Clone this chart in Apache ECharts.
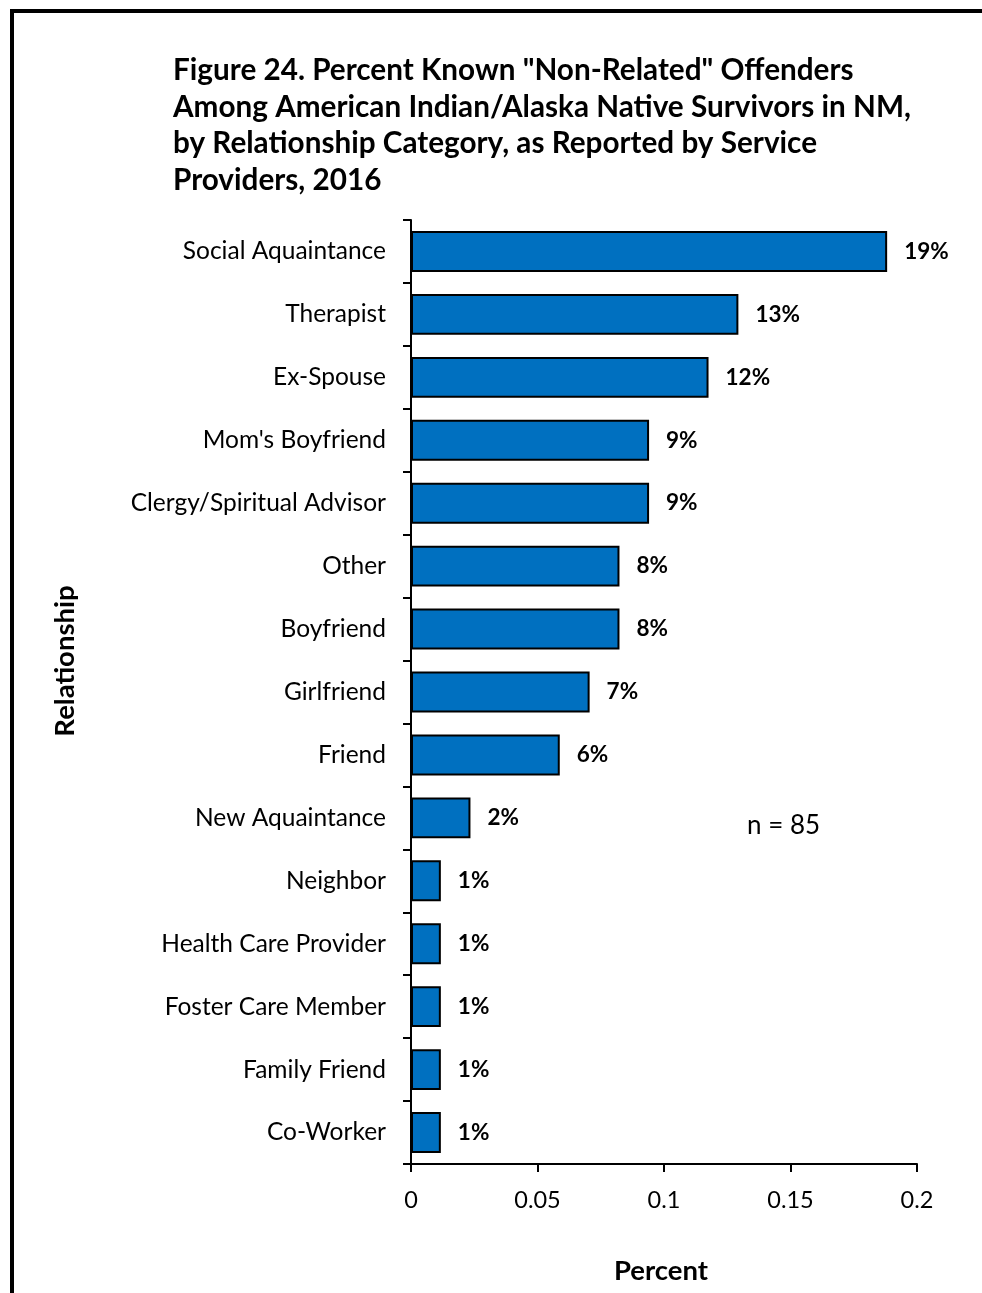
<!DOCTYPE html>
<html>
<head>
<meta charset="utf-8">
<script src="https://cdn.jsdelivr.net/npm/echarts@6/dist/echarts.min.js"></script>
<style>
  html, body { margin: 0; padding: 0; background: #fff; }
  #wrap { position: relative; width: 982px; height: 1293px; overflow: hidden; }
  #frame { position: absolute; left: 10px; top: 9px; width: 1000px; height: 1320px;
           border-left: 4px solid #000; border-top: 4px solid #000; box-sizing: border-box; }
  #chart { position: absolute; left: 0; top: 0; width: 982px; height: 1293px; }
</style>
</head>
<body>
<div id="wrap">
  <div id="frame"></div>
  <div id="chart"></div>
</div>
<script>
// Relationship categories, listed from bottom to top of the axis
const categories = [
  'Co-Worker', 'Family Friend', 'Foster Care Member', 'Health Care Provider',
  'Neighbor', 'New Aquaintance', 'Friend', 'Girlfriend', 'Boyfriend', 'Other',
  'Clergy/Spiritual Advisor', "Mom's Boyfriend", 'Ex-Spouse', 'Therapist',
  'Social Aquaintance'
];
// Share of known non-related offenders (n = 85)
const shares = [
  0.0118, 0.0118, 0.0118, 0.0118, 0.0118, 0.0235, 0.0588, 0.0706, 0.0824, 0.0824,
  0.0941, 0.0941, 0.1176, 0.1294, 0.1882
];
const xTicks = [0, 0.05, 0.1, 0.15, 0.2];

const FONT = 'Lato';
const chart = echarts.init(document.getElementById('chart'), null, { renderer: 'canvas' });
chart.setOption({
  animation: false,
  backgroundColor: 'transparent',
  title: {
    text: 'Figure 24. Percent Known "Non-Related" Offenders\nAmong American Indian/Alaska Native Survivors in NM,\nby Relationship Category, as Reported by Service\nProviders, 2016',
    left: 168, top: 47,
    textStyle: { fontFamily: FONT, fontWeight: 'bold', fontSize: 29.7, lineHeight: 36.7, color: '#000' }
  },
  grid: { left: 411, top: 220, width: 506, height: 944, containLabel: false },
  xAxis: {
    type: 'value', min: xTicks[0], max: xTicks[xTicks.length - 1], interval: 0.05,
    splitLine: { show: false },
    axisLine: { show: true, lineStyle: { color: '#000', width: 2 } },
    axisTick: { show: true, length: 8, lineStyle: { color: '#000', width: 2 } },
    axisLabel: { margin: 24, fontFamily: FONT, fontSize: 23.5, color: '#000',
                 formatter: v => String(v) },
    name: 'Percent', nameLocation: 'middle', nameGap: 93,
    nameTextStyle: { fontFamily: FONT, fontWeight: 'bold', fontSize: 27.5, color: '#000',
                     padding: [0, 6, 0, 0] }
  },
  yAxis: {
    type: 'category', data: categories,
    axisLine: { show: true, lineStyle: { color: '#000', width: 2 } },
    axisTick: { show: true, length: 8, alignWithLabel: false, lineStyle: { color: '#000', width: 2 } },
    axisLabel: { margin: 25, fontFamily: FONT, fontSize: 24.5, color: '#000' }
  },
  series: [{
    type: 'bar', data: shares, barCategoryGap: '35%',
    itemStyle: { color: '#0070C0', borderColor: '#000', borderWidth: 2 },
    label: {
      show: true, position: 'right', distance: 17,
      fontFamily: FONT, fontWeight: 'bold', fontSize: 22.5, color: '#000',
      formatter: p => Math.round(p.value * 100) + '%'
    }
  }],
  graphic: [
    {
      // vertical axis title
      type: 'text', x: 65, y: 661, rotation: Math.PI / 2,
      style: { text: 'Relationship', fontFamily: FONT, fontWeight: 'bold', fontSize: 27.5,
               fill: '#000', align: 'center', verticalAlign: 'middle' }
    },
    {
      type: 'text', left: 747, top: 813,
      style: { text: 'n = 85', fontFamily: FONT, fontSize: 26, fill: '#000' }
    }
  ]
});
</script>
</body>
</html>
